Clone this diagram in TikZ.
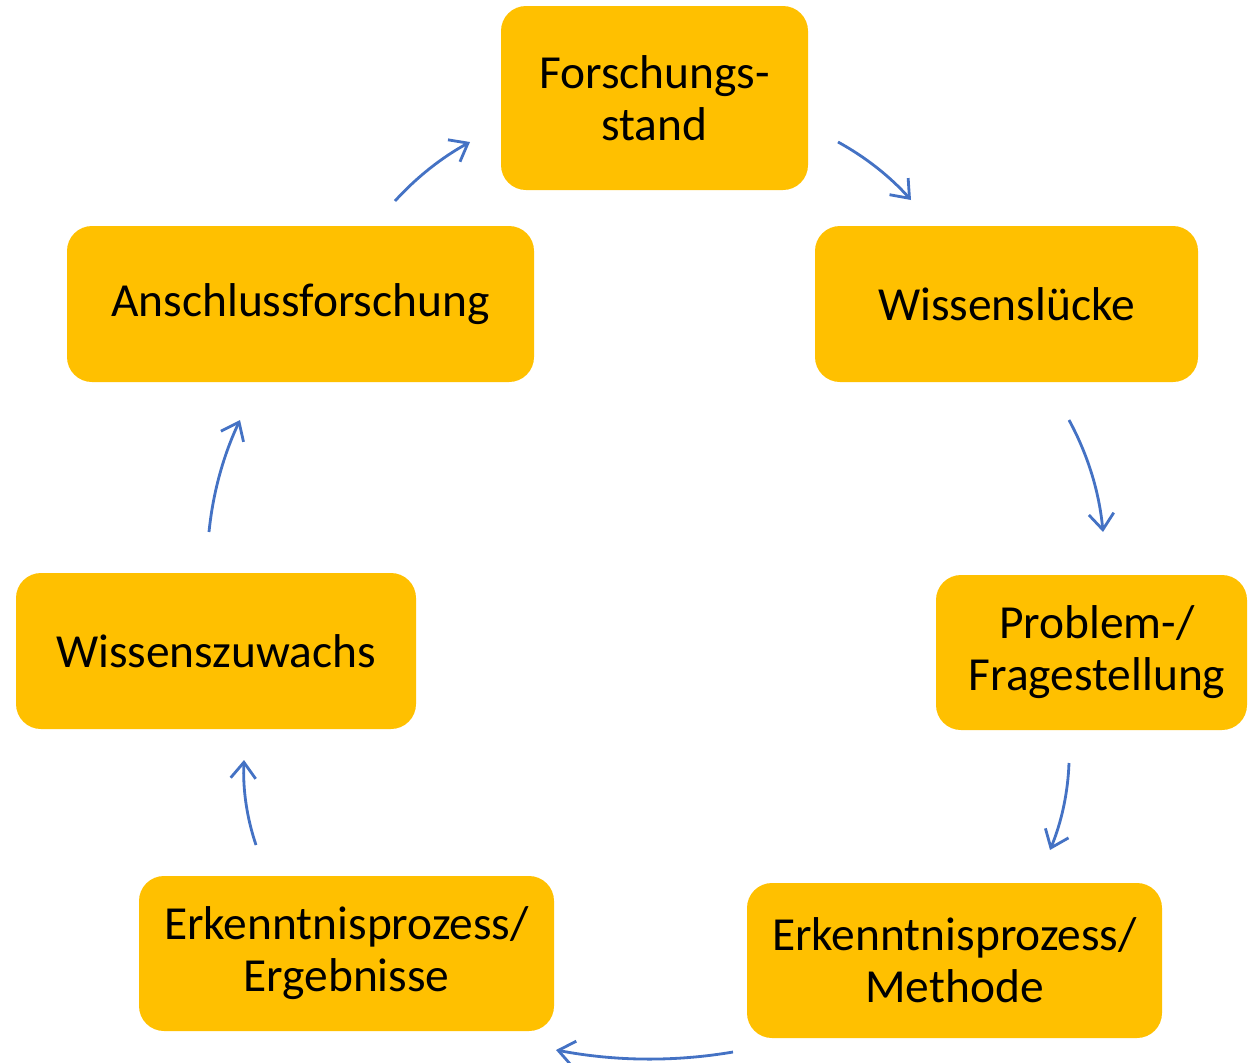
\documentclass[tikz,border=0pt]{standalone}
\usepackage{fontspec}
\setmainfont{Carlito}
\usetikzlibrary{arrows.meta}
\definecolor{boxgold}{HTML}{FFC000}
\definecolor{arrowblue}{HTML}{4472C4}
\tikzset{
  stagebox/.style={fill=boxgold, draw=none, rounded corners=0.5cm, align=center,
    inner sep=0pt, font=\fontsize{27}{29.5}\selectfont, text=black},
  cyclearrow/.style={draw=arrowblue, line width=1.6pt,
    -{Straight Barb[length=0.32cm,width=0.5cm,line width=1.6pt]}}
}
\begin{document}
\begin{tikzpicture}[x=0.02cm,y=-0.02cm]
\useasboundingbox (0,0) rectangle (1248,1062);
\node[stagebox, minimum width=307*0.02cm, minimum height=184*0.02cm] (fs) at (654.5,98) {Forschungs-\\stand};
\node[stagebox, minimum width=383*0.02cm, minimum height=156*0.02cm] (wl) at (1006.5,304) {Wissenslücke};
\node[stagebox, minimum width=311*0.02cm, minimum height=155*0.02cm] (pf) at (1091.5,652.5) {};
\node at (1097,652.5) [align=center, font=\fontsize{27}{29.5}\selectfont, inner sep=0pt] (pft) {Problem-/\\Fragestellung};
\node[stagebox, minimum width=415*0.02cm, minimum height=155*0.02cm] (em) at (954.5,960.5) {Erkenntnisprozess/\\Methode};
\node[stagebox, minimum width=415*0.02cm, minimum height=155*0.02cm] (ee) at (346.5,953.5) {Erkenntnisprozess/\\Ergebnisse};
\node[stagebox, minimum width=400*0.02cm, minimum height=156*0.02cm] (wz) at (216,651) {Wissenszuwachs};
\node[stagebox, minimum width=467*0.02cm, minimum height=156*0.02cm] (af) at (300.5,304) {Anschlussforschung};

\coordinate (a1s) at (838,142); \coordinate (a1e) at (911,200);
\coordinate (a2s) at (1069,420); \coordinate (a2e) at (1103,532);
\coordinate (a3s) at (1069,763); \coordinate (a3e) at (1050,850);
\coordinate (a4s) at (733,1052); \coordinate (a4e) at (556,1050);
\coordinate (a5s) at (256,845); \coordinate (a5e) at (244,760);
\coordinate (a6s) at (209,532); \coordinate (a6e) at (240,420);
\coordinate (a7s) at (395,201); \coordinate (a7e) at (470,142);

\draw[cyclearrow] (a1s) .. controls (865.7,157.2) and (890,176.5) .. (a1e);
\draw[cyclearrow] (a2s) .. controls (1088,455) and (1099.3,492.3) .. (a2e);
\draw[cyclearrow] (a3s) .. controls (1067.9,793.1) and (1061.5,822.1) .. (a3e);
\draw[cyclearrow] (a4s) .. controls (674,1062) and (615.3,1061.3) .. (a4e);
\draw[cyclearrow] (a5s) .. controls (246.7,817.4) and (242.7,789.1) .. (a5e);
\draw[cyclearrow] (a6s) .. controls (212.9,492.9) and (223.3,455.5) .. (a6e);
\draw[cyclearrow] (a7s) .. controls (416.7,177.1) and (441.7,157.5) .. (a7e);
\end{tikzpicture}
\end{document}
